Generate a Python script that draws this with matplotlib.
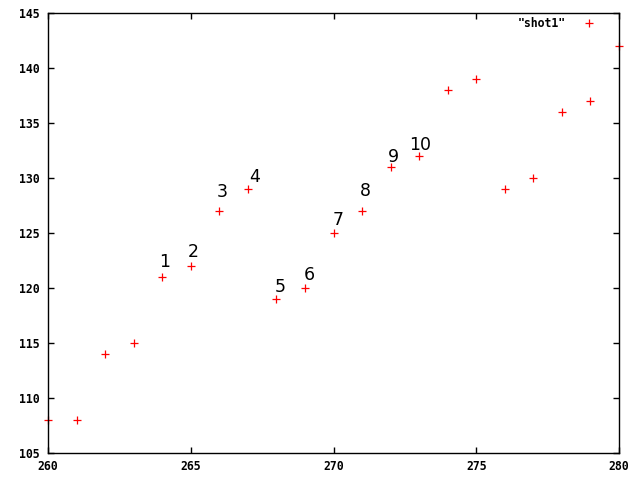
import numpy as np
import matplotlib
matplotlib.use("Agg")
import matplotlib.pyplot as plt

# data
x_vals = [260, 261, 262, 263, 264, 265, 266, 267, 268, 269, 270,
          271, 272, 273, 274, 275, 276, 277, 278, 279, 280]
y_vals = [108, 108, 114, 115, 121, 122, 127, 129, 119, 120, 125,
          127, 131, 132, 138, 139, 129, 130, 136, 137, 142]

# numbered labels placed next to points 264..273
label_text = ["1", "2", "3", "4", "5", "6", "7", "8", "9", "10"]
label_x = [264.1, 265.1, 266.1, 267.25, 268.15, 269.15, 270.15, 271.1, 272.1, 273.05]
label_y = [122.4, 123.3, 128.75, 130.1, 120.05, 121.2, 126.2, 128.8, 131.95, 133.0]

x_ticks = [260, 265, 270, 275, 280]
y_ticks = [105, 110, 115, 120, 125, 130, 135, 140, 145]

fig = plt.figure(figsize=(6.4, 4.8), dpi=100)
ax = fig.add_axes([48 / 640, 27 / 480, 571 / 640, 440 / 480])

ax.plot(x_vals, y_vals, linestyle="none", marker="+", color="red",
        markersize=6, markeredgewidth=0.9, label='"shot1"', clip_on=False)

for t, lx, ly in zip(label_text, label_x, label_y):
    ax.text(lx, ly, t, ha="center", va="center", fontsize=12.5,
            family="DejaVu Sans", color="black")

ax.set_xlim(260, 280)
ax.set_ylim(105, 145)
ax.set_xticks(x_ticks)
ax.set_yticks(y_ticks)

tick_font = {"family": "DejaVu Sans Mono", "weight": "bold", "size": 8.3}
ax.set_xticklabels([str(v) for v in x_ticks], fontdict=tick_font)
ax.set_yticklabels([str(v) for v in y_ticks], fontdict=tick_font)
ax.tick_params(direction="in", length=4.5, width=1, top=True, right=True,
               colors="black")
ax.tick_params(axis="x", pad=5)
ax.tick_params(axis="y", pad=6)
for s in ax.spines.values():
    s.set_linewidth(1)

leg = ax.legend(loc="upper right", frameon=False, markerfirst=False,
                prop={"family": "DejaVu Sans Mono", "weight": "bold", "size": 8.3},
                handlelength=1.5, handletextpad=1.3, borderaxespad=0.2,
                bbox_to_anchor=(0.9755, 1.007))

fig.savefig("out.png", dpi=100)
